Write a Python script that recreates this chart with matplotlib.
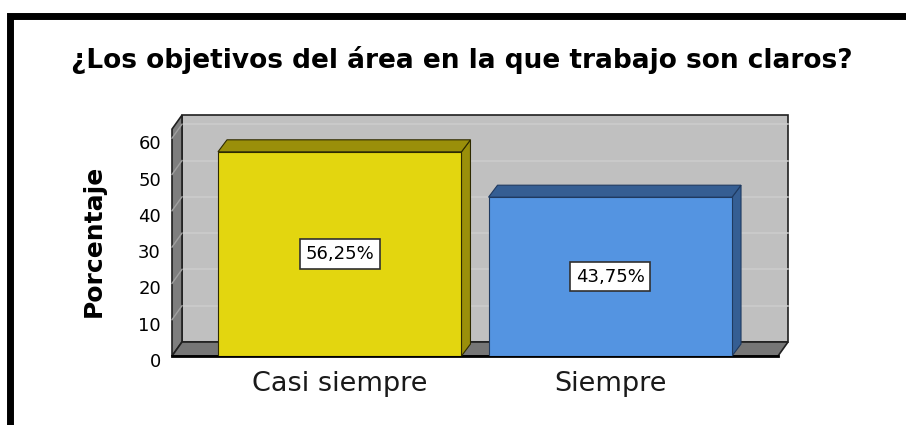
import numpy as np
import matplotlib.pyplot as plt
from matplotlib.patches import Polygon, Rectangle
from matplotlib.transforms import ScaledTranslation

categorias = ["Casi siempre", "Siempre"]
porcentaje = [56.25, 43.75]
yticks = [0, 10, 20, 30, 40, 50, 60]
titulo = "¿Los objetivos del área en la que trabajo son claros?"

frente = ["#E3D60F", "#5494E1"]
lado = ["#9A8F0A", "#355E93"]
borde = ["#2E2A00", "#1F3A60"]

W, H = 906, 425
fig = plt.figure(figsize=(W / 100, H / 100), dpi=100)
ax = fig.add_axes([172 / W, 69 / H, 606 / W, 62.5 * 3.63 / H])
ax.set_xlim(-0.62, 1.62)
ax.set_ylim(0, 62.5)
ax.patch.set_visible(False)
for s in ax.spines.values():
    s.set_visible(False)

wall_d = np.array([10, 14])   # profundidad de las paredes en pixeles
bar_d = np.array([9, 12])     # profundidad de las barras


def shift(x, y, d):
    p = ax.transData.transform((x, y)) + d
    return ax.transData.inverted().transform(p)


x0, x1 = ax.get_xlim()
y1 = ax.get_ylim()[1]

# pared del fondo
back = [shift(x0, 0, wall_d), shift(x1, 0, wall_d), shift(x1, y1, wall_d), shift(x0, y1, wall_d)]
ax.add_patch(Polygon(back, closed=True, fc="#C0C0C0", ec="#202020", lw=1.2, zorder=0, clip_on=False))
# pared lateral
side = [(x0, 0), (x0, y1), shift(x0, y1, wall_d), shift(x0, 0, wall_d)]
ax.add_patch(Polygon(side, closed=True, fc="#7E7E7E", ec="#202020", lw=1.2, zorder=0.5, clip_on=False))
# piso
floor = [(x0, 0), (x1, 0), shift(x1, 0, wall_d), shift(x0, 0, wall_d)]
ax.add_patch(Polygon(floor, closed=True, fc="#767676", ec="#202020", lw=1.2, zorder=0.5, clip_on=False))
ax.plot([x0, x1], [0, 0], color="black", lw=2, zorder=1, clip_on=False)

# lineas de cuadricula
for v in yticks[1:]:
    a = shift(x0, v, wall_d)
    b = shift(x1, v, wall_d)
    ax.plot([a[0], b[0]], [a[1], b[1]], color="#CDCDCD", lw=1.1, zorder=0.2, clip_on=False)
    ax.plot([x0, a[0]], [v, a[1]], color="#A0A0A0", lw=1.0, zorder=0.6, clip_on=False)

# barras
xs = np.arange(len(categorias))
w = 0.9
for i, (x, h) in enumerate(zip(xs, porcentaje)):
    l, r = x - w / 2, x + w / 2
    top = [(l, h), (r, h), shift(r, h, bar_d), shift(l, h, bar_d)]
    rside = [(r, 0), (r, h), shift(r, h, bar_d), shift(r, 0, bar_d)]
    ax.add_patch(Polygon(rside, closed=True, fc=lado[i], ec=borde[i], lw=0.8, zorder=2, clip_on=False))
    ax.add_patch(Polygon(top, closed=True, fc=lado[i], ec=borde[i], lw=0.8, zorder=2, clip_on=False))
ax.bar(xs, porcentaje, width=w, color=frente, edgecolor=borde, linewidth=0.8, zorder=3)

for x, h in zip(xs, porcentaje):
    ax.text(x, h / 2, f"{h:.2f}%".replace(".", ","), ha="center", va="center",
            fontsize=13, zorder=5,
            bbox=dict(boxstyle="square,pad=0.32", fc="white", ec="#303030", lw=1.2))

ax.set_yticks(yticks)
ax.set_xticks(xs)
ax.set_xticklabels(categorias, fontsize=19.5, color="#1a1a1a")
ax.tick_params(axis="y", length=0, pad=8, labelsize=13)
ax.tick_params(axis="x", length=0, pad=11)
for lab in ax.get_yticklabels():
    lab.set_transform(lab.get_transform() + ScaledTranslation(0, -0.04, fig.dpi_scale_trans))

fig.text(93.5 / W, 1 - 241 / H, "Porcentaje", rotation=90, ha="center", va="center",
         fontsize=18, fontweight="bold")
fig.text(462 / W, 1 - 60 / H, titulo, ha="center", va="center", fontsize=19, fontweight="bold")

# marco exterior
fig.patches.append(Rectangle((9.5 / W, -0.2), 2, 1.2 - 16 / H, transform=fig.transFigure,
                             fill=False, ec="black", lw=5.0))

fig.savefig("out.png", dpi=100)
